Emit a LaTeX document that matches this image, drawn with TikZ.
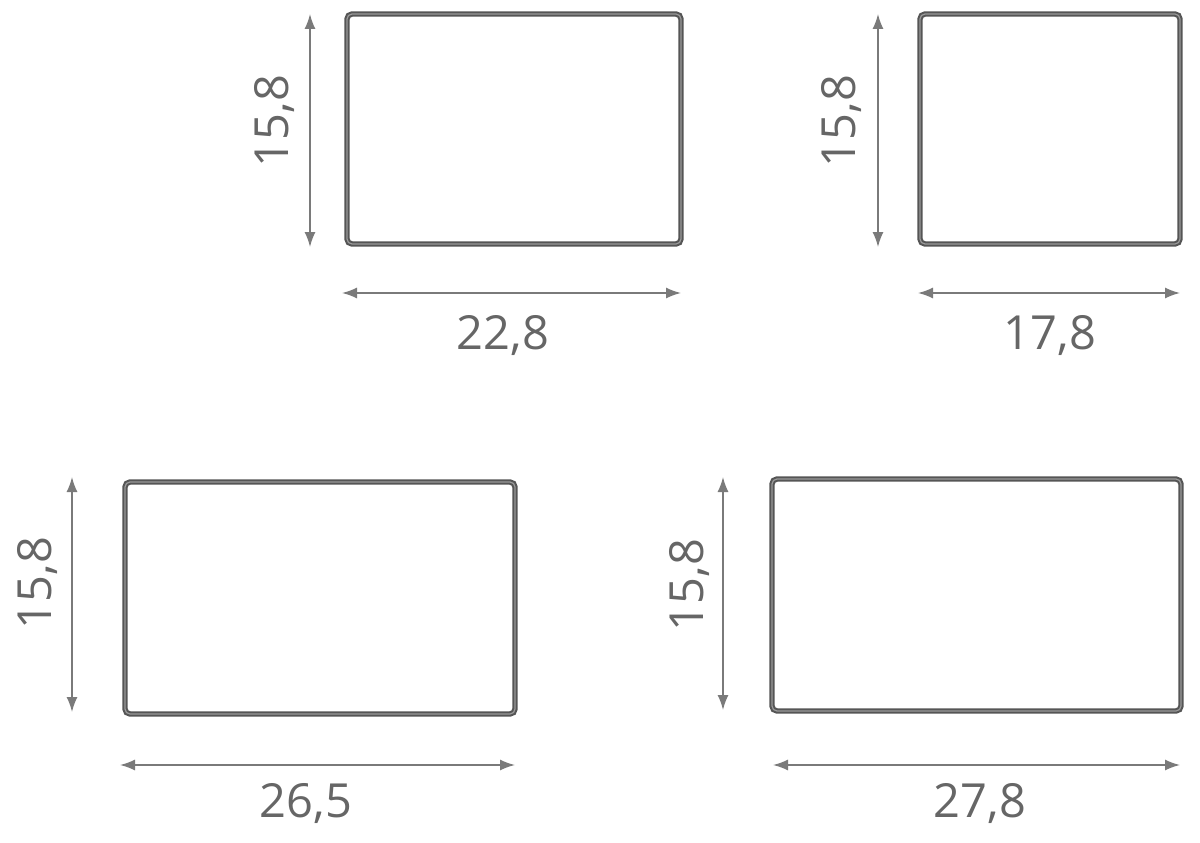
\documentclass[tikz,border=0pt]{standalone}
\usepackage{fontspec}
\setmainfont{Open Sans}
\usetikzlibrary{arrows.meta}
\definecolor{boxdark}{HTML}{555555}
\definecolor{boxlight}{HTML}{9A9A9A}
\definecolor{dimcol}{HTML}{7A7A7A}
\definecolor{txtcol}{HTML}{666666}
\tikzset{
  tray/.style={draw=boxdark, line width=2.1pt, double=boxlight, double distance=1.2pt, rounded corners=5pt},
  dimline/.style={draw=dimcol, line width=1.5pt, {Latex[length=15pt,width=11pt]}-{Latex[length=15pt,width=11pt]}},
  dimtxt/.style={text=txtcol, font=\fontsize{47}{50}\selectfont, inner sep=0pt},
}
\begin{document}
\begin{tikzpicture}[x=1pt,y=-1pt]
\useasboundingbox (0,0) rectangle (1200,843);
% top left
\draw[tray] (347,14) rectangle (681,244);
\coordinate (a1) at (310,14); \coordinate (a2) at (310,247);
\draw[dimline] (a1) -- (a2);
\node[dimtxt, rotate=90] (t1) at (275,121) {15,8};
\coordinate (b1) at (342,293); \coordinate (b2) at (681,293);
\draw[dimline] (b1) -- (b2);
\node[dimtxt] (t2) at (503,336) {22,8};
% top right
\draw[tray] (920,14) rectangle (1180,244);
\coordinate (c1) at (878,14); \coordinate (c2) at (878,247);
\draw[dimline] (c1) -- (c2);
\node[dimtxt, rotate=90] (t3) at (842,121) {15,8};
\coordinate (d1) at (918,293); \coordinate (d2) at (1180,293);
\draw[dimline] (d1) -- (d2);
\node[dimtxt] (t4) at (1050,336) {17,8};
% bottom left
\draw[tray] (125,482) rectangle (515,714);
\coordinate (e1) at (72,477); \coordinate (e2) at (72,712);
\draw[dimline] (e1) -- (e2);
\node[dimtxt, rotate=90] (t5) at (38,583) {15,8};
\coordinate (f1) at (120,765); \coordinate (f2) at (515,765);
\draw[dimline] (f1) -- (f2);
\node[dimtxt] (t6) at (306,804) {26,5};
% bottom right
\draw[tray] (772,479) rectangle (1181,711);
\coordinate (g1) at (723,477); \coordinate (g2) at (723,710);
\draw[dimline] (g1) -- (g2);
\node[dimtxt, rotate=90] (t7) at (690,585) {15,8};
\coordinate (h1) at (773,765); \coordinate (h2) at (1180,765);
\draw[dimline] (h1) -- (h2);
\node[dimtxt] (t8) at (980,804) {27,8};
\end{tikzpicture}
\end{document}
